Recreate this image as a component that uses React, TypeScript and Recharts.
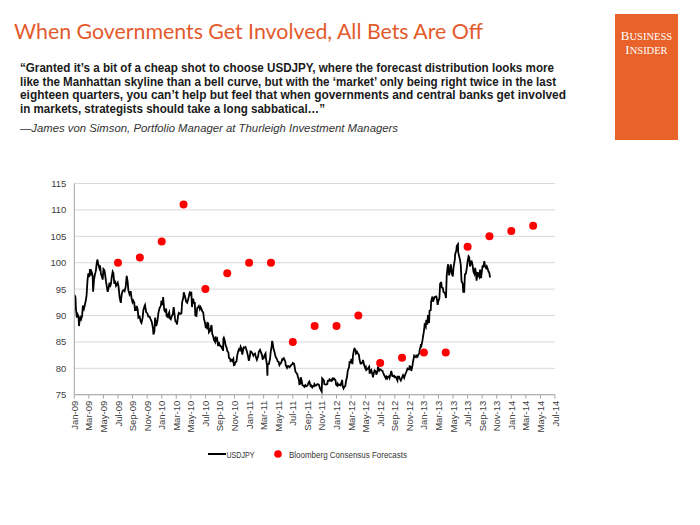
import React from 'react';
import { ComposedChart, Line, Scatter, XAxis, YAxis, CartesianGrid } from 'recharts';

const titleText = 'When Governments Get Involved, All Bets Are Off';
const quoteLines = [
  '\u201cGranted it\u2019s a bit of a cheap shot to choose USDJPY, where the forecast distribution looks more',
  'like the Manhattan skyline than a bell curve, but with the \u2018market\u2019 only being right twice in the last',
  'eighteen quarters, you can\u2019t help but feel that when governments and central banks get involved',
  'in markets, strategists should take a long sabbatical\u2026\u201d',
];
const attribution = '\u2014James von Simson, Portfolio Manager at Thurleigh Investment Managers';

const xTickLabels = [
  'Jan-09','Mar-09','May-09','Jul-09','Sep-09','Nov-09',
  'Jan-10','Mar-10','May-10','Jul-10','Sep-10','Nov-10',
  'Jan-11','Mar-11','May-11','Jul-11','Sep-11','Nov-11',
  'Jan-12','Mar-12','May-12','Jul-12','Sep-12','Nov-12',
  'Jan-13','Mar-13','May-13','Jul-13','Sep-13','Nov-13',
  'Jan-14','Mar-14','May-14','Jul-14',
];
const yTicks = [75, 80, 85, 90, 95, 100, 105, 110, 115];

const forecastDates = [
  '2009-07-01','2009-10-01','2010-01-01','2010-04-01','2010-07-01','2010-10-01',
  '2011-01-01','2011-04-01','2011-07-01','2011-10-01','2012-01-01','2012-04-01',
  '2012-07-01','2012-10-01','2013-01-01','2013-04-01','2013-07-01','2013-10-01',
  '2014-01-01','2014-04-01',
];
const forecastValues = [100, 101, 104, 111, 95, 98, 100, 100, 85, 88, 88, 90, 81, 82, 83, 83, 103, 105, 106, 107];

const usdjpy: [string, number][] = [
["2009-01-02",93.9],["2009-01-06",93.4],["2009-01-08",91.2],["2009-01-12",89.6],["2009-01-15",90.2],["2009-01-19",89.8],["2009-01-21",88.0],["2009-01-23",88.8],["2009-01-27",89.6],["2009-01-30",89.3],
["2009-02-03",89.9],["2009-02-06",91.9],["2009-02-10",91.3],["2009-02-13",91.9],["2009-02-17",92.8],["2009-02-20",93.7],["2009-02-24",96.8],["2009-02-27",98.0],
["2009-03-03",97.3],["2009-03-06",98.8],["2009-03-10",97.6],["2009-03-13",98.2],["2009-03-17",97.6],["2009-03-19",94.5],["2009-03-23",96.8],["2009-03-27",97.8],["2009-03-31",98.5],
["2009-04-03",99.8],["2009-04-06",100.6],["2009-04-09",99.9],["2009-04-14",99.0],["2009-04-17",99.5],["2009-04-21",97.8],["2009-04-24",97.5],["2009-04-28",96.8],
["2009-05-01",98.8],["2009-05-05",98.6],["2009-05-08",97.8],["2009-05-12",96.4],["2009-05-15",95.6],["2009-05-19",94.5],["2009-05-22",95.0],["2009-05-27",96.2],["2009-05-29",95.4],
["2009-06-02",96.0],["2009-06-05",97.2],["2009-06-09",98.3],["2009-06-12",98.0],["2009-06-16",96.0],["2009-06-19",96.6],["2009-06-23",95.6],["2009-06-26",95.8],["2009-06-30",96.2],
["2009-07-03",95.6],["2009-07-08",93.4],["2009-07-13",92.4],["2009-07-16",93.8],["2009-07-20",94.6],["2009-07-24",94.8],["2009-07-29",94.6],
["2009-08-03",95.5],["2009-08-07",97.5],["2009-08-11",96.4],["2009-08-14",94.8],["2009-08-19",94.0],["2009-08-24",94.6],["2009-08-28",93.2],
["2009-09-01",92.5],["2009-09-04",92.8],["2009-09-08",92.4],["2009-09-11",91.0],["2009-09-15",91.0],["2009-09-18",91.8],["2009-09-22",91.2],["2009-09-25",89.6],["2009-09-30",89.8],
["2009-10-05",88.8],["2009-10-08",88.6],["2009-10-13",89.6],["2009-10-16",91.0],["2009-10-21",91.8],["2009-10-23",92.0],["2009-10-28",90.6],
["2009-11-02",90.4],["2009-11-06",89.8],["2009-11-11",89.8],["2009-11-16",89.2],["2009-11-20",88.8],["2009-11-25",87.6],["2009-11-27",86.4],
["2009-12-01",87.0],["2009-12-04",89.6],["2009-12-09",88.0],["2009-12-14",89.0],["2009-12-18",90.5],["2009-12-23",91.4],["2009-12-28",91.8],["2009-12-31",92.8],
["2010-01-05",92.0],["2010-01-07",93.5],["2010-01-12",91.0],["2010-01-15",90.8],["2010-01-20",91.3],["2010-01-22",89.9],["2010-01-27",89.7],["2010-01-29",90.2],
["2010-02-02",90.6],["2010-02-04",89.5],["2010-02-08",89.3],["2010-02-11",89.8],["2010-02-16",90.3],["2010-02-19",91.6],["2010-02-24",89.5],["2010-02-26",88.9],
["2010-03-02",88.7],["2010-03-04",88.3],["2010-03-09",90.0],["2010-03-12",90.5],["2010-03-18",90.3],["2010-03-23",90.4],["2010-03-26",92.5],["2010-03-31",93.4],
["2010-04-02",94.4],["2010-04-07",93.6],["2010-04-12",92.6],["2010-04-16",92.4],["2010-04-21",93.2],["2010-04-26",94.3],["2010-04-30",94.0],
["2010-05-03",94.5],["2010-05-06",91.6],["2010-05-07",92.0],["2010-05-11",93.2],["2010-05-14",92.4],["2010-05-18",92.4],["2010-05-20",90.0],["2010-05-25",89.9],["2010-05-28",91.4],
["2010-06-01",91.6],["2010-06-04",91.8],["2010-06-08",91.2],["2010-06-11",91.6],["2010-06-15",91.2],["2010-06-18",90.8],["2010-06-22",90.6],["2010-06-25",89.4],["2010-06-30",88.5],
["2010-07-02",87.8],["2010-07-07",87.6],["2010-07-09",88.6],["2010-07-13",88.5],["2010-07-16",86.8],["2010-07-21",87.1],["2010-07-23",87.5],["2010-07-27",88.2],["2010-07-30",86.6],
["2010-08-04",85.9],["2010-08-06",85.4],["2010-08-11",85.0],["2010-08-13",86.0],["2010-08-17",85.4],["2010-08-20",85.6],["2010-08-24",84.2],["2010-08-27",85.0],["2010-08-31",84.3],
["2010-09-03",84.3],["2010-09-08",83.9],["2010-09-10",84.0],["2010-09-14",83.3],["2010-09-15",85.6],["2010-09-17",85.8],["2010-09-21",85.2],["2010-09-24",84.4],["2010-09-29",83.8],
["2010-10-01",83.3],["2010-10-06",83.0],["2010-10-08",82.0],["2010-10-13",81.8],["2010-10-15",81.4],["2010-10-19",81.6],["2010-10-22",81.4],["2010-10-27",81.8],["2010-10-29",80.6],
["2010-11-02",80.7],["2010-11-04",81.1],["2010-11-09",81.3],["2010-11-12",82.4],["2010-11-16",83.2],["2010-11-19",83.6],["2010-11-23",83.4],["2010-11-26",84.1],["2010-11-30",83.7],
["2010-12-03",82.6],["2010-12-08",83.8],["2010-12-10",84.0],["2010-12-15",83.9],["2010-12-17",84.0],["2010-12-22",83.3],["2010-12-27",82.4],["2010-12-31",81.4],
["2011-01-04",82.2],["2011-01-07",83.2],["2011-01-11",83.1],["2011-01-14",82.9],["2011-01-19",82.4],["2011-01-21",82.6],["2011-01-26",82.8],["2011-01-31",82.0],
["2011-02-03",81.6],["2011-02-08",82.3],["2011-02-10",83.1],["2011-02-15",83.5],["2011-02-18",83.1],["2011-02-22",82.6],["2011-02-25",81.8],
["2011-03-01",81.9],["2011-03-04",82.4],["2011-03-09",82.8],["2011-03-11",81.8],["2011-03-15",80.6],["2011-03-17",78.6],["2011-03-18",80.8],["2011-03-23",80.8],["2011-03-28",81.8],["2011-03-31",83.1],
["2011-04-04",84.2],["2011-04-06",85.2],["2011-04-08",84.8],["2011-04-12",83.6],["2011-04-15",83.2],["2011-04-20",82.2],["2011-04-25",81.8],["2011-04-29",81.3],
["2011-05-03",81.2],["2011-05-06",80.6],["2011-05-10",80.9],["2011-05-13",81.0],["2011-05-18",81.7],["2011-05-20",81.6],["2011-05-25",81.9],["2011-05-31",81.3],
["2011-06-02",80.6],["2011-06-07",80.1],["2011-06-09",80.4],["2011-06-14",80.4],["2011-06-17",80.2],["2011-06-21",80.4],["2011-06-24",80.6],["2011-06-29",80.8],
["2011-07-01",81.0],["2011-07-06",80.9],["2011-07-08",80.5],["2011-07-12",79.4],["2011-07-15",79.2],["2011-07-20",78.9],["2011-07-22",78.5],["2011-07-27",77.8],["2011-07-29",77.0],
["2011-08-02",77.1],["2011-08-04",78.3],["2011-08-08",77.6],["2011-08-11",76.8],["2011-08-16",76.7],["2011-08-19",76.5],["2011-08-23",76.8],["2011-08-26",76.6],["2011-08-31",76.7],
["2011-09-02",76.8],["2011-09-07",77.4],["2011-09-09",77.5],["2011-09-14",76.7],["2011-09-16",76.8],["2011-09-21",76.4],["2011-09-23",76.6],["2011-09-28",76.6],["2011-09-30",77.0],
["2011-10-04",76.7],["2011-10-07",76.7],["2011-10-12",77.0],["2011-10-14",77.0],["2011-10-19",76.9],["2011-10-24",76.2],["2011-10-27",75.9],["2011-10-31",75.6],
["2011-11-02",78.1],["2011-11-04",78.0],["2011-11-09",77.7],["2011-11-11",77.0],["2011-11-16",76.9],["2011-11-18",76.9],["2011-11-23",77.0],["2011-11-25",77.6],["2011-11-30",77.6],
["2011-12-02",77.9],["2011-12-07",77.7],["2011-12-09",77.6],["2011-12-14",78.0],["2011-12-16",77.8],["2011-12-21",78.1],["2011-12-23",78.0],["2011-12-28",77.7],["2011-12-30",76.9],
["2012-01-04",76.7],["2012-01-06",77.1],["2012-01-11",76.8],["2012-01-13",76.9],["2012-01-18",76.8],["2012-01-20",77.0],["2012-01-25",77.8],["2012-01-27",76.7],["2012-01-31",76.2],
["2012-02-03",76.5],["2012-02-07",76.6],["2012-02-10",77.6],["2012-02-14",78.4],["2012-02-17",79.6],["2012-02-22",80.2],["2012-02-24",81.2],["2012-02-29",81.1],
["2012-03-02",81.8],["2012-03-07",80.8],["2012-03-09",82.4],["2012-03-14",83.6],["2012-03-15",83.7],["2012-03-20",83.5],["2012-03-22",82.8],["2012-03-27",83.1],["2012-03-30",82.8],
["2012-04-03",82.6],["2012-04-06",81.6],["2012-04-10",80.9],["2012-04-13",80.9],["2012-04-18",81.1],["2012-04-20",81.6],["2012-04-25",80.6],["2012-04-30",80.0],
["2012-05-02",80.2],["2012-05-04",79.7],["2012-05-09",79.9],["2012-05-11",80.0],["2012-05-16",80.3],["2012-05-18",79.0],["2012-05-23",79.6],["2012-05-25",79.7],["2012-05-31",78.6],
["2012-06-01",78.3],["2012-06-06",79.3],["2012-06-08",79.6],["2012-06-13",79.4],["2012-06-15",78.8],["2012-06-20",79.5],["2012-06-22",80.3],["2012-06-27",79.6],["2012-06-29",79.8],
["2012-07-03",79.8],["2012-07-06",79.6],["2012-07-11",79.5],["2012-07-13",79.2],["2012-07-18",78.7],["2012-07-20",78.5],["2012-07-25",78.1],["2012-07-27",78.4],["2012-07-31",78.1],
["2012-08-03",78.4],["2012-08-08",78.5],["2012-08-10",78.2],["2012-08-15",79.0],["2012-08-17",79.5],["2012-08-22",78.5],["2012-08-24",78.5],["2012-08-29",78.6],["2012-08-31",78.3],
["2012-09-05",78.4],["2012-09-07",78.2],["2012-09-12",77.7],["2012-09-14",78.4],["2012-09-19",78.4],["2012-09-21",78.1],["2012-09-26",77.7],["2012-09-28",77.9],
["2012-10-03",78.5],["2012-10-05",78.7],["2012-10-10",78.2],["2012-10-12",78.5],["2012-10-17",79.1],["2012-10-19",79.3],["2012-10-24",79.9],["2012-10-26",79.8],["2012-10-31",79.8],
["2012-11-02",80.4],["2012-11-07",80.3],["2012-11-09",79.5],["2012-11-14",80.5],["2012-11-16",81.2],["2012-11-21",82.4],["2012-11-23",82.3],["2012-11-28",82.1],["2012-11-30",82.4],
["2012-12-05",82.2],["2012-12-07",82.5],["2012-12-12",82.8],["2012-12-14",83.5],["2012-12-19",84.3],["2012-12-21",84.2],["2012-12-26",85.3],["2012-12-28",85.9],["2012-12-31",86.7],
["2013-01-02",87.3],["2013-01-04",88.2],["2013-01-09",87.8],["2013-01-11",89.2],["2013-01-16",88.3],["2013-01-18",90.1],["2013-01-23",88.6],["2013-01-25",90.9],["2013-01-30",91.0],
["2013-02-01",92.7],["2013-02-06",93.6],["2013-02-08",92.6],["2013-02-13",93.3],["2013-02-15",93.5],["2013-02-20",93.6],["2013-02-22",93.4],["2013-02-26",92.0],["2013-02-28",92.6],
["2013-03-05",93.3],["2013-03-08",96.0],["2013-03-11",96.2],["2013-03-13",96.2],["2013-03-15",95.3],["2013-03-20",95.2],["2013-03-22",94.5],["2013-03-27",94.3],["2013-03-29",94.2],
["2013-04-02",93.3],["2013-04-04",96.3],["2013-04-05",97.5],["2013-04-09",99.3],["2013-04-11",99.7],["2013-04-15",97.6],["2013-04-18",98.4],["2013-04-22",99.7],["2013-04-26",98.0],["2013-04-30",97.4],
["2013-05-03",99.0],["2013-05-09",100.7],["2013-05-10",101.6],["2013-05-15",102.3],["2013-05-17",103.2],["2013-05-22",103.5],["2013-05-23",102.0],["2013-05-27",101.2],["2013-05-31",100.5],
["2013-06-03",99.5],["2013-06-06",96.5],["2013-06-11",96.0],["2013-06-13",94.5],["2013-06-17",94.5],["2013-06-20",97.8],["2013-06-24",97.9],["2013-06-28",99.1],
["2013-07-02",100.6],["2013-07-05",101.2],["2013-07-08",101.0],["2013-07-11",99.3],["2013-07-15",99.9],["2013-07-18",100.4],["2013-07-22",99.6],["2013-07-26",98.3],["2013-07-30",97.9],
["2013-08-02",99.0],["2013-08-06",98.0],["2013-08-08",96.6],["2013-08-13",98.2],["2013-08-15",97.7],["2013-08-20",97.3],["2013-08-23",98.7],["2013-08-27",97.1],["2013-08-30",98.1],
["2013-09-03",99.5],["2013-09-06",99.1],["2013-09-10",100.3],["2013-09-12",99.5],["2013-09-17",99.0],["2013-09-20",99.3],["2013-09-24",98.8],["2013-09-27",98.3],["2013-09-30",98.2],
["2013-10-02",97.6],["2013-10-04",97.2],
];

// months elapsed since 1 Jan 2009
const toMonths = (s: string) => {
  const [y, m, d] = s.split('-').map(Number);
  const dim = new Date(y, m, 0).getDate();
  return (y - 2009) * 12 + (m - 1) + (d - 1) / dim;
};

const lineData = usdjpy.map(([d, v]) => ({ t: toMonths(d), v }));
const fcData = forecastDates.map((d, i) => ({ t: toMonths(d), v: forecastValues[i] }));
const xTicks = xTickLabels.map((_, i) => i * 2);

const AXIS_FONT = '"Liberation Sans", Arial, sans-serif';

const XTick = (props: any) => {
  const { x, y, payload } = props;
  const label = xTickLabels[Math.round(payload.value / 2)];
  return (
    <text
      transform={`translate(${x},${y}) rotate(-90)`}
      textAnchor="end"
      dominantBaseline="central"
      fontSize={9.5}
      fill="#404040"
      fontFamily={AXIS_FONT}
    >
      {label}
    </text>
  );
};

const YTick = (props: any) => {
  const { x, y, payload } = props;
  return (
    <text x={x} y={y} textAnchor="end" dominantBaseline="central" fontSize={9.5} fill="#404040" fontFamily={AXIS_FONT}>
      {payload.value}
    </text>
  );
};

const RedDot = (props: any) => <circle cx={props.cx} cy={props.cy} r={4} fill="#ff0000" />;

export default function App() {
  return (
    <div style={{ position: 'absolute', left: 0, top: 0, width: 700, height: 525, background: '#fff' }}>
      <div style={{ position: 'absolute', left: 0, top: 0 }}>
        <ComposedChart width={700} height={525} margin={{ top: 183.5, right: 145, bottom: 70.3, left: 34.3 }}>
          <CartesianGrid vertical={false} stroke="#d9d9d9" strokeWidth={1} />
          <XAxis
            type="number"
            dataKey="t"
            domain={[0, 66]}
            ticks={xTicks}
            interval={0}
            height={60}
            tickSize={4}
            tickMargin={2}
            axisLine={{ stroke: '#a6a6a6' }}
            tickLine={{ stroke: '#a6a6a6' }}
            tick={<XTick />}
            allowDataOverflow
          />
          <YAxis
            type="number"
            dataKey="v"
            domain={[75, 115]}
            ticks={yTicks}
            interval={0}
            width={40}
            tickSize={0}
            tickMargin={8}
            axisLine={{ stroke: '#a6a6a6' }}
            tickLine={false}
            tick={<YTick />}
            allowDataOverflow
          />
          <Line data={lineData} dataKey="v" type="linear" stroke="#000" strokeWidth={1.8} dot={false} activeDot={false} isAnimationActive={false} />
          <Scatter data={fcData} dataKey="v" fill="#ff0000" shape={<RedDot />} isAnimationActive={false} />
        </ComposedChart>
      </div>
      <svg width={700} height={525} style={{ position: 'absolute', left: 0, top: 0, pointerEvents: 'none' }}>
        <text x={14} y={39} fontSize={21} fill="#E35A2C" fontFamily="Lato, 'Open Sans', sans-serif" textLength={469} lengthAdjust="spacingAndGlyphs">
          {titleText}
        </text>
        {quoteLines.map((l, i) => (
          <text
            key={i}
            x={20}
            y={72 + i * 13.6}
            fontSize={12}
            fontWeight="bold"
            fill="#1a1a1a"
            fontFamily={AXIS_FONT}
            textLength={[534, 536, 546, 305][i]}
            lengthAdjust="spacingAndGlyphs"
          >
            {l}
          </text>
        ))}
        <text x={20} y={132} fontSize={11} fontStyle="italic" fill="#333" fontFamily={AXIS_FONT} textLength={378} lengthAdjust="spacingAndGlyphs">
          {attribution}
        </text>
        <rect x={615} y={14} width={63} height={126} fill="#E8622A" />
        <text x={646.5} y={39.5} textAnchor="middle" fill="#fff" fontFamily="'Liberation Serif', 'DejaVu Serif', serif">
          <tspan fontSize={13}>B</tspan>
          <tspan fontSize={10.5}>USINESS</tspan>
        </text>
        <text x={646.5} y={54} textAnchor="middle" fill="#fff" fontFamily="'Liberation Serif', 'DejaVu Serif', serif">
          <tspan fontSize={13}>I</tspan>
          <tspan fontSize={10.5}>NSIDER</tspan>
        </text>
        <line x1={208} y1={454} x2={226} y2={454} stroke="#000" strokeWidth={2} />
        <text x={226.5} y={454} dominantBaseline="central" fontSize={9.5} fill="#333" fontFamily={AXIS_FONT} textLength={28} lengthAdjust="spacingAndGlyphs">USDJPY</text>
        <circle cx={278} cy={454} r={3.8} fill="#ff0000" />
        <text x={289} y={454} dominantBaseline="central" fontSize={9.5} fill="#333" fontFamily={AXIS_FONT} textLength={118} lengthAdjust="spacingAndGlyphs">
          Bloomberg Consensus Forecasts
        </text>
      </svg>
    </div>
  );
}
